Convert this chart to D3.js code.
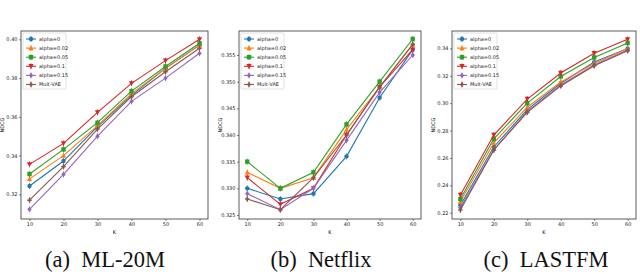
<!DOCTYPE html>
<html>
<head>
<meta charset="utf-8">
<script src="https://cdn.jsdelivr.net/npm/d3@7"></script>
<style>
  body { margin: 0; background: #fff; }
  svg { display: block; }
  .tick text { font-family: "DejaVu Sans", sans-serif; font-size: 5px; fill: #222; }
  .caption { font-family: "Liberation Serif", "Times New Roman", serif; font-size: 22.5px; fill: #111; white-space: pre; }
</style>
</head>
<body>
<svg id="chart" width="640" height="274"></svg>
<script>
// x values (K) shared by every panel
const ks = [10, 20, 30, 40, 50, 60]
const seriesNames = ['alpha=0', 'alpha=0.02', 'alpha=0.05', 'alpha=0.1', 'alpha=0.15', 'Mult-VAE']
const colors = ['#1f77b4', '#ff7f0e', '#2ca02c', '#d62728', '#9467bd', '#8c564b']
const markers = ['circle', 'triUp', 'square', 'triDown', 'diamond', 'plus']

// NDCG values
const ml20m = [
  [0.3243, 0.3372, 0.3550, 0.3711, 0.3850, 0.3970],
  [0.3280, 0.3400, 0.3555, 0.3720, 0.3850, 0.3970],
  [0.3305, 0.3432, 0.3570, 0.3733, 0.3860, 0.3980],
  [0.3355, 0.3463, 0.3623, 0.3773, 0.3890, 0.4000],
  [0.3123, 0.3303, 0.3500, 0.3680, 0.3800, 0.3928],
  [0.3170, 0.3343, 0.3537, 0.3704, 0.3833, 0.3954],
]
const netflix = [
  [0.3300, 0.3280, 0.3290, 0.3360, 0.3470, 0.3560],
  [0.3330, 0.3300, 0.3320, 0.3410, 0.3490, 0.3570],
  [0.3350, 0.3300, 0.3330, 0.3420, 0.3500, 0.3580],
  [0.3320, 0.3270, 0.3300, 0.3400, 0.3490, 0.3560],
  [0.3290, 0.3260, 0.3300, 0.3390, 0.3480, 0.3550],
  [0.3280, 0.3260, 0.3320, 0.3400, 0.3490, 0.3570],
]
const lastfm = [
  [0.2255, 0.2680, 0.2953, 0.3145, 0.3300, 0.3400],
  [0.2280, 0.2710, 0.2970, 0.3155, 0.3290, 0.3400],
  [0.2300, 0.2740, 0.3000, 0.3195, 0.3334, 0.3440],
  [0.2330, 0.2767, 0.3030, 0.3220, 0.3364, 0.3466],
  [0.2236, 0.2660, 0.2940, 0.3133, 0.3278, 0.3388],
  [0.2220, 0.2658, 0.2933, 0.3126, 0.3273, 0.3383],
]
const captions = ['(a)  ML-20M', '(b)  Netflix', '(c)  LASTFM']

const panels = [
  { data: ml20m, left: 21, right: 208, y: [0.3073, 0.4043], ticks: [0.32, 0.34, 0.36, 0.38, 0.40], fmt: '.2f', cap: 105 },
  { data: netflix, left: 239, right: 421, y: [0.32425, 0.3595], ticks: [0.325, 0.330, 0.335, 0.340, 0.345, 0.350, 0.355], fmt: '.3f', cap: 321 },
  { data: lastfm, left: 452, right: 636, y: [0.2154, 0.3527], ticks: [0.22, 0.24, 0.26, 0.28, 0.30, 0.32, 0.34], fmt: '.2f', cap: 546 },
]

const plotTop = 31, plotBottom = 219
const svg = d3.select('#chart')

function drawMarker(g, type, x, y, color) {
  const s = 2.2
  if (type === 'circle') {
    g.append('circle').attr('cx', x).attr('cy', y).attr('r', s).attr('fill', color)
  } else if (type === 'square') {
    g.append('rect').attr('x', x - s).attr('y', y - s).attr('width', 2 * s).attr('height', 2 * s).attr('fill', color)
  } else if (type === 'triUp') {
    g.append('path').attr('d', `M${x},${y - s * 1.2}L${x + s * 1.2},${y + s}L${x - s * 1.2},${y + s}Z`).attr('fill', color)
  } else if (type === 'triDown') {
    g.append('path').attr('d', `M${x},${y + s * 1.2}L${x + s * 1.2},${y - s}L${x - s * 1.2},${y - s}Z`).attr('fill', color)
  } else if (type === 'diamond') {
    g.append('path').attr('d', `M${x},${y - s * 1.2}L${x + s},${y}L${x},${y + s * 1.2}L${x - s},${y}Z`).attr('fill', color)
  } else {
    g.append('path').attr('d', `M${x - s},${y}H${x + s}M${x},${y - s}V${y + s}`).attr('stroke', color).attr('stroke-width', 1.6)
  }
  // small error bar through each marker
  g.append('line').attr('x1', x).attr('x2', x).attr('y1', y - 3).attr('y2', y + 3)
    .attr('stroke', color).attr('stroke-width', 0.8)
}

panels.forEach((p, pi) => {
  const x = d3.scaleLinear().domain([7.5, 62.5]).range([p.left, p.right])
  const y = d3.scaleLinear().domain(p.y).range([plotBottom, plotTop])
  const g = svg.append('g')

  g.append('g').attr('transform', `translate(0,${plotBottom})`)
    .call(d3.axisBottom(x).tickValues(ks).tickSize(2).tickPadding(1.5))
    .call(a => a.select('.domain').remove())
    .call(a => a.selectAll('line').attr('stroke', '#333').attr('stroke-width', 0.6))
  g.append('g').attr('transform', `translate(${p.left},0)`)
    .call(d3.axisLeft(y).tickValues(p.ticks).tickFormat(d3.format(p.fmt)).tickSize(2).tickPadding(1.5))
    .call(a => a.select('.domain').remove())
    .call(a => a.selectAll('line').attr('stroke', '#333').attr('stroke-width', 0.6))

  const line = d3.line().x((d, i) => x(ks[i])).y(d => y(d))
  p.data.forEach((vals, si) => {
    g.append('path').datum(vals).attr('d', line)
      .attr('fill', 'none').attr('stroke', colors[si]).attr('stroke-width', 1.1)
    const mg = g.append('g')
    vals.forEach((v, i) => drawMarker(mg, markers[si], x(ks[i]), y(v), colors[si]))
  })

  // frame
  g.append('rect').attr('x', p.left).attr('y', plotTop).attr('width', p.right - p.left).attr('height', plotBottom - plotTop)
    .attr('fill', 'none').attr('stroke', '#333').attr('stroke-width', 0.8)

  // axis labels
  g.append('text').attr('x', (p.left + p.right) / 2).attr('y', 234).attr('text-anchor', 'middle')
    .style('font-family', 'DejaVu Sans, sans-serif').style('font-size', '5px').text('K')
  g.append('text').attr('transform', `translate(${p.left - 17},125) rotate(-90)`).attr('text-anchor', 'middle')
    .style('font-family', 'DejaVu Sans, sans-serif').style('font-size', '5px').text('NDCG')

  // legend
  const lg = g.append('g').attr('transform', `translate(${p.left + 2},${plotTop + 2})`)
  lg.append('rect').attr('width', 43).attr('height', 56).attr('rx', 1)
    .attr('fill', '#fff').attr('fill-opacity', 0.85).attr('stroke', '#ccc').attr('stroke-width', 0.6)
  seriesNames.forEach((name, si) => {
    const ly = 6 + si * 9.1
    lg.append('line').attr('x1', 3).attr('x2', 13).attr('y1', ly).attr('y2', ly)
      .attr('stroke', colors[si]).attr('stroke-width', 1.1)
    drawMarker(lg, markers[si], 8, ly, colors[si])
    lg.append('text').attr('x', 16).attr('y', ly + 1.8)
      .style('font-family', 'DejaVu Sans, sans-serif').style('font-size', '5px').attr('fill', '#222').text(name)
  })

  svg.append('text').attr('class', 'caption').attr('x', p.cap).attr('y', 267)
    .attr('text-anchor', 'middle').text(captions[pi])
})
</script>
</body>
</html>
